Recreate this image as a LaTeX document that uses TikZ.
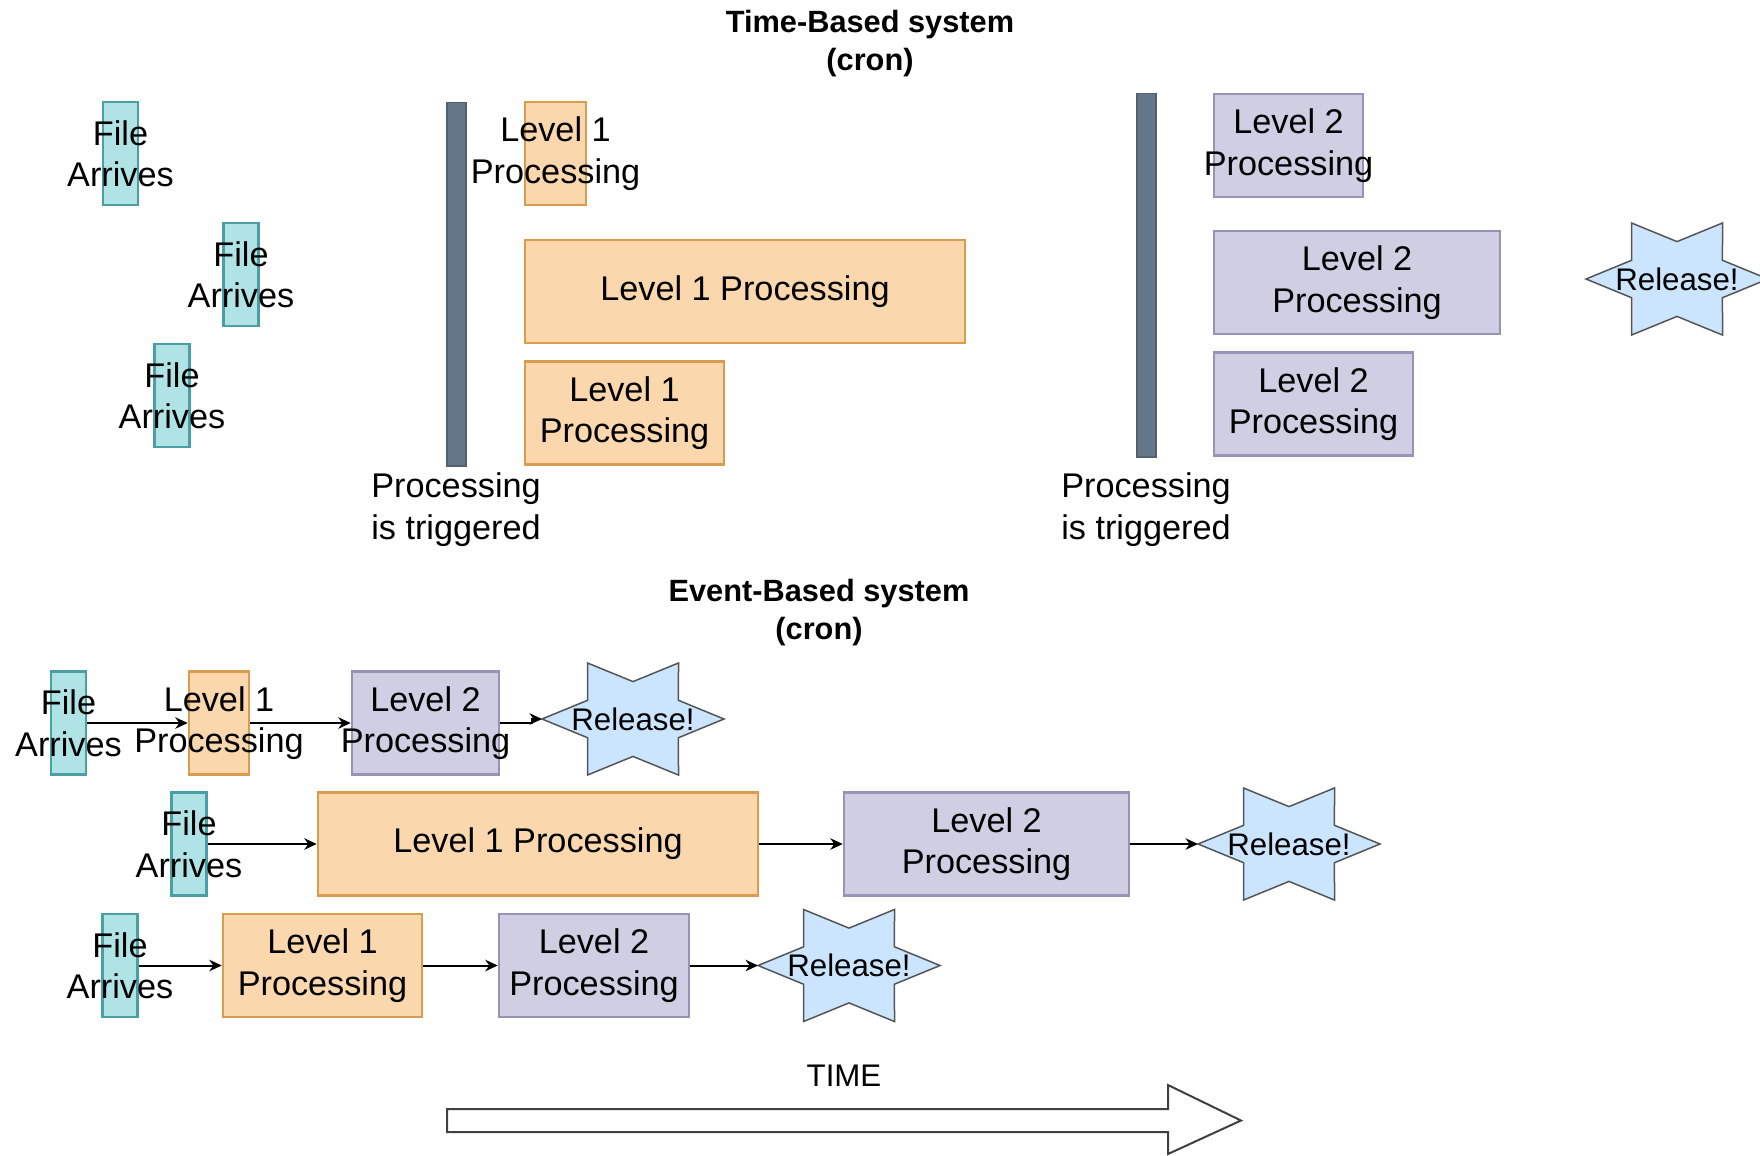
\documentclass[tikz,border=0pt]{standalone}
\usepackage{fontspec}
\setmainfont{Liberation Sans}
\usetikzlibrary{arrows.meta}

\definecolor{filefill}{HTML}{B0E3E6}
\definecolor{filedraw}{HTML}{4A9FA4}
\definecolor{lonefill}{HTML}{FAD7AC}
\definecolor{lonedraw}{HTML}{D89C4E}
\definecolor{ltwofill}{HTML}{D0CEE2}
\definecolor{ltwodraw}{HTML}{9893B6}
\definecolor{starfill}{HTML}{CCE5FF}
\definecolor{stardraw}{HTML}{555555}
\definecolor{barfill}{HTML}{647687}
\definecolor{bardraw}{HTML}{52606F}

\tikzset{
  box/.style={line width=1pt, inner sep=2pt, minimum height=41.2pt, align=center},
  filebox/.style={box, fill=filefill, draw=filedraw, minimum width=14pt},
  lone/.style={box, fill=lonefill, draw=lonedraw, minimum width=#1},
  ltwo/.style={box, fill=ltwofill, draw=ltwodraw, minimum width=#1},
  over/.style={label={[align=center]center:#1}},
  bar/.style={fill=barfill, draw=bardraw, line width=.6pt, inner sep=0pt,
    minimum width=7.6pt, minimum height=145.4pt},
  note/.style={align=center},
  heading/.style={align=center, font=\fontsize{12.3}{15.2}\selectfont\bfseries},
  small/.style={font=\fontsize{12.5}{15}\selectfont},
  flow/.style={->, line width=.8pt},
  starline/.style={fill=starfill, draw=stardraw, line width=.6pt},
  release/.pic={
    \draw[starline] (0:91 and 64.7)
      \foreach \a in {30,90,...,330} {-- (\a:52.5 and 37.4) -- (\a+30:91 and 64.7)} -- cycle;
    \coordinate (-tip) at (180:91 and 64.7);
    \node[small] (-txt) {Release!};
  }
}

\begin{document}
\begin{tikzpicture}[x=0.4pt, y=-0.4pt, font=\fontsize{13.7}{16.6}\selectfont,
    >={Stealth[length=5pt,width=4.6pt]}]
  \useasboundingbox (0,0) rectangle (1760,1155);

  % time-based
  \node[heading] (tbs) at (870,43.5) {Time-Based system\\(cron)};
  \node[filebox, over={File\\Arrives}] (f1) at (120.5,153.5) {};
  \node[filebox, over={File\\Arrives}] (f2) at (241,274.5) {};
  \node[filebox, over={File\\Arrives}] (f3) at (172,395.5) {};
  \node[bar] (bar1) at (456.5,284) {};
  \node[note] (trig1) at (456,509.5) {Processing\\is triggered};
  \node[lone=24.4pt, over={Level 1\\Processing}] (l1a) at (555.5,153.5) {};
  \node[lone=176pt] (l1b) at (745,291.5) {Level 1 Processing};
  \node[lone=79.6pt] (l1c) at (624.5,413) {Level 1\\Processing};
  \node[bar] (bar2) at (1146.5,275) {};
  \node[note] (trig2) at (1146,509.5) {Processing\\is triggered};
  \node[ltwo=59.6pt, over={Level 2\\Processing}] (l2a) at (1288.5,145.5) {};
  \node[ltwo=114.4pt] (l2b) at (1357,282.5) {Level 2\\Processing};
  \node[ltwo=79.6pt] (l2c) at (1313.5,404) {Level 2\\Processing};
  \pic (s0) at (1677,279) {release};

  % event-based
  \node[heading] (ebs) at (819,613) {Event-Based system\\(cron)};
  \node[filebox, over={File\\Arrives}] (e1f) at (68.5,723) {};
  \node[lone=24pt, over={Level 1\\Processing}] (e1a) at (219,723) {};
  \node[ltwo=58.8pt, over={Level 2\\Processing}] (e1b) at (425.5,723) {};
  \pic (s1) at (633,719) {release};
  \draw[flow] (e1f) -- (e1a);
  \draw[flow] (e1a) -- (e1b);
  \draw[flow] (e1b.east) -| ([xshift=-4pt]s1-tip) -- (s1-tip);

  \node[filebox, over={File\\Arrives}] (e2f) at (189,844) {};
  \node[lone=176pt] (e2a) at (538,844) {Level 1 Processing};
  \node[ltwo=114pt] (e2b) at (986.5,844) {Level 2\\Processing};
  \pic (s2) at (1289,844) {release};
  \draw[flow] (e2f) -- (e2a);
  \draw[flow] (e2a) -- (e2b);
  \draw[flow] (e2b) -- (s2-tip);

  \node[filebox, over={File\\Arrives}] (e3f) at (120,965.5) {};
  \node[lone=79.6pt] (e3a) at (322.5,965.5) {Level 1\\Processing};
  \node[ltwo=76pt] (e3b) at (594,965.5) {Level 2\\Processing};
  \pic (s3) at (849,965.5) {release};
  \draw[flow] (e3f) -- (e3a);
  \draw[flow] (e3a) -- (e3b);
  \draw[flow] (e3b) -- (s3-tip);

  % time axis
  \node[small] (time) at (844,1076) {TIME};
  \draw[draw=black!75, fill=white, line width=.8pt] (447,1109) -- (1168,1109) -- (1168,1085)
    -- (1241,1120.5) -- (1168,1154) -- (1168,1132) -- (447,1132) -- cycle;
\end{tikzpicture}
\end{document}
